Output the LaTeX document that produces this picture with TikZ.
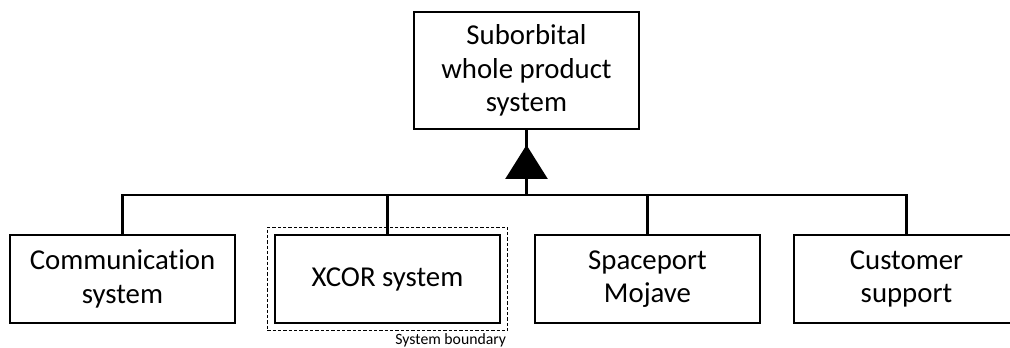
\documentclass[tikz,border=0pt]{standalone}
\usepackage{fontspec}
\setmainfont[Ligatures=NoCommon]{Carlito}
\usetikzlibrary{fit,arrows.meta,decorations.markings}

\begin{document}
\begin{tikzpicture}[x=0.75pt,y=-0.75pt,
    box/.style={draw,line width=1.1pt,minimum width=168.75pt,minimum height=66pt,
        align=center,inner sep=0pt,font=\fontsize{21.6}{25}\selectfont},
    link/.style={line width=2pt},
    bounds/.style={draw,line width=0.9pt,dash pattern=on 2.5pt off 1.5pt,inner sep=5.25pt}]
    \useasboundingbox (0,0) rectangle (1010,348);
    % whole product and its parts
    \node[box,minimum height=87.75pt] (whole) at (526.5,70.5) {Suborbital\\whole product\\system};
    \node[box] (comm) at (122.5,279) {Communication\\system};
    \node[box] (xcor) at (387.5,279) {XCOR system};
    \node[box] (port) at (647.5,279) {Spaceport\\Mojave};
    \node[box] (cust) at (906.5,279) {Customer\\support};
    % system boundary round XCOR
    \node[bounds,fit=(xcor)] (bound) {};
    \node[anchor=base east,inner sep=0pt,font=\fontsize{11.8}{14}\selectfont] (boundlabel)
        at ([xshift=-1.5pt,yshift=-10.2pt]bound.south east) {System boundary};
    % tree
    \coordinate (hub) at (526.5,195);
    \draw[link] (comm.north) |- (hub) -| (cust.north);
    \draw[link] (xcor.north) -- (xcor.north |- hub);
    \draw[link] (port.north) -- (port.north |- hub);
    \draw[link,decoration={markings,mark=at position 37.5pt with {\arrow{Triangle[width=31.5pt,length=25.5pt]}}},
        postaction=decorate] (hub) -- (whole.south);
\end{tikzpicture}
\end{document}
